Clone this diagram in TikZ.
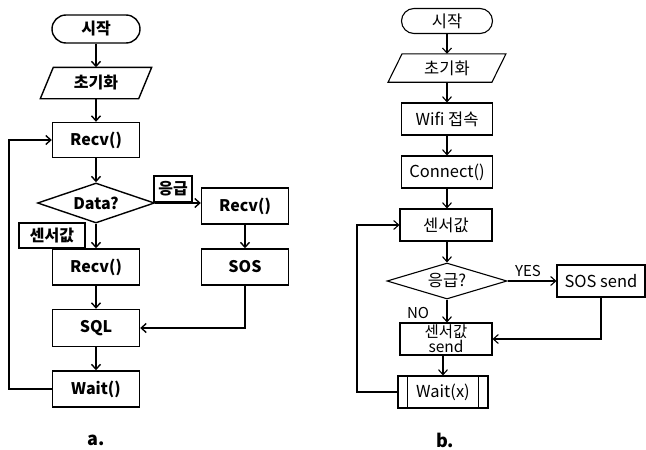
\documentclass[tikz,border=0pt]{standalone}
\usepackage{fontspec}
\setmainfont{Noto Sans CJK KR}
\usetikzlibrary{shapes.geometric,arrows.meta,calc}
\begin{document}
\begin{tikzpicture}[x=1pt,y=-1pt,
  lwa/.style={line width=1.4pt},
  lwb/.style={line width=1.1pt},
  boxa/.style={draw, lwa, minimum width=87pt, minimum height=36pt, inner sep=0pt, font=\bfseries\fontsize{16}{18}\selectfont},
  boxb/.style={draw, lwb, minimum width=91pt, minimum height=32pt, inner sep=0pt, font=\fontsize{16.5}{18}\selectfont},
  texta/.style={inner sep=0pt, font=\bfseries\fontsize{16}{18}\selectfont},
  textb/.style={inner sep=0pt, font=\fontsize{16.5}{18}\selectfont},
  arra/.style={lwa, -{Straight Barb[length=5pt,width=9pt,line width=1.4pt]}},
  arrb/.style={lwb, -{Straight Barb[length=5pt,width=9pt,line width=1.1pt]}}]
\useasboundingbox (0,0) rectangle (646,450);
% ---------------- (a) ----------------
\node[boxa, minimum width=88pt, minimum height=28pt, rounded corners=14pt] (startA) at (96,29) {시작};
\node[texta, minimum width=98pt, minimum height=31pt] (initA) at (96,83) {초기화};
\draw[lwa] ($(initA.north west)+(6.5,0)$) -- ($(initA.north east)+(6.5,0)$) -- ($(initA.south east)+(-6.5,0)$) -- ($(initA.south west)+(-6.5,0)$) -- cycle;
\node[boxa, minimum height=35pt] (recvA) at (96,140) {Recv()};
\node[draw, lwa, diamond, aspect=2.9, minimum width=117pt, minimum height=40pt, inner sep=0pt, font=\bfseries\fontsize{16}{18}\selectfont] (dataA) at (96,203) {Data?};
\node[boxa, minimum width=87pt] (recvB) at (245,206) {Recv()};
\node[boxa, minimum width=38pt, minimum height=26pt] (emerA) at (173,189) {응급};
\node[boxa, minimum width=66pt, minimum height=25pt] (sensA) at (52,235.5) {센서값};
\node[boxa] (recvC) at (96,267) {Recv()};
\node[boxa] (sosA) at (245,267) {SOS};
\node[boxa, minimum height=37pt] (sqlA) at (96,328) {SQL};
\node[boxa] (waitA) at (96,389) {Wait()};
\node[texta, font=\bfseries\fontsize{18}{20}\selectfont] (labA) at (96,440) {a.};
\coordinate (loopA) at (9,389);
\draw[arra] (startA) -- (initA);
\draw[arra] (initA) -- (recvA);
\draw[arra] (recvA) -- (dataA);
\draw[arra] (dataA.east) -- (dataA.east -| recvB.west);
\draw[arra] (dataA) -- (recvC);
\draw[arra] (recvB) -- (sosA);
\draw[arra] (recvC) -- (sqlA);
\draw[arra] (sosA.south) |- (sqlA.east);
\draw[arra] (sqlA) -- (waitA);
\draw[arra] (waitA.west) -- (loopA) |- (recvA.west);
% ---------------- (b) ----------------
\node[boxb, minimum height=25pt, rounded corners=12.5pt] (startB) at (447,21) {시작};
\node[textb, minimum width=103.5pt, minimum height=28pt] (initB) at (447,68) {초기화};
\draw[lwb] ($(initB.north west)+(7,0)$) -- ($(initB.north east)+(7,0)$) -- ($(initB.south east)+(-7,0)$) -- ($(initB.south west)+(-7,0)$) -- cycle;
\node[boxb] (wifiB) at (447,119) {Wifi 접속};
\node[boxb] (connB) at (447,172) {Connect()};
\node[boxb, minimum width=92pt] (sensB) at (446,225) {센서값};
\node[draw, lwb, diamond, aspect=3.33, minimum width=120pt, minimum height=36pt, inner sep=0pt, font=\fontsize{16.5}{18}\selectfont] (emB) at (447,281) {응급?};
\node[boxb, minimum width=88pt] (sosB) at (601,281) {SOS send};
\node[textb, font=\fontsize{15}{17}\selectfont] (yesB) at (528,271) {YES};
\node[textb, font=\fontsize{15}{17}\selectfont] (noB) at (418,313) {NO};
\node[boxb, minimum width=92pt, align=center, font=\fontsize{15.5}{15}\selectfont] (sendB) at (446,339) {센서값\\send};
\node[boxb, minimum width=90pt] (waitB) at (443,392) {Wait(x)};
\draw[lwb] ($(waitB.north west)+(10,0)$) -- ($(waitB.south west)+(10,0)$);
\draw[lwb] ($(waitB.north east)+(-10,0)$) -- ($(waitB.south east)+(-10,0)$);
\node[texta, font=\bfseries\fontsize{18}{20}\selectfont] (labB) at (445,440) {b.};
\coordinate (loopB) at (357,392);
\draw[arrb] (startB) -- (initB);
\draw[arrb] (initB) -- (wifiB);
\draw[arrb] (wifiB) -- (connB);
\draw[arrb] (connB) -- (connB |- sensB.north);
\draw[arrb] (sensB.south -| emB.north) -- (emB.north);
\draw[arrb] (emB.east) -- (sosB.west);
\draw[arrb] (emB.south) -- (emB.south |- sendB.north);
\draw[arrb] (sosB.south) |- (sendB.east);
\draw[arrb] (waitB.north |- sendB.south) -- (waitB.north);
\draw[arrb] (waitB.west) -- (loopB) |- (sensB.west);
\end{tikzpicture}
\end{document}
